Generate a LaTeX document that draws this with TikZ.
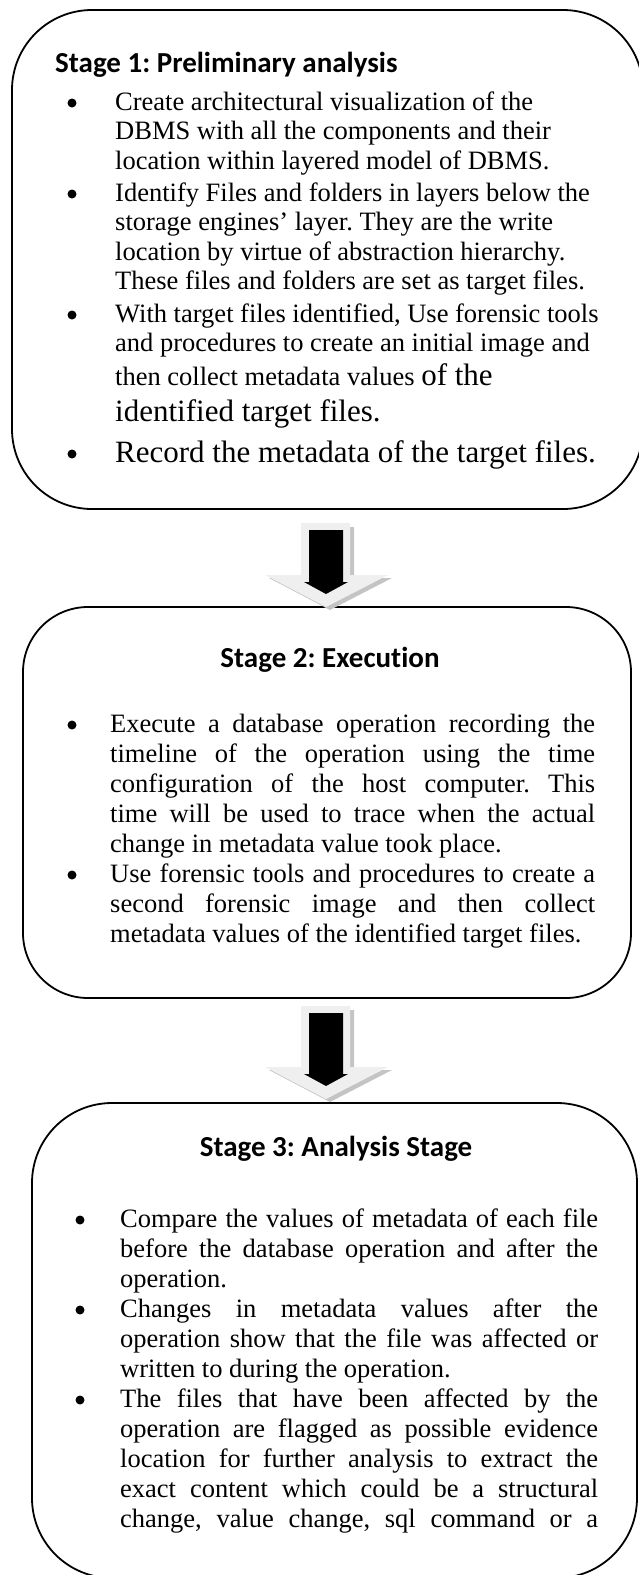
\documentclass[tikz,border=0pt]{standalone}
\usepackage{fontspec}
\setmainfont{Liberation Serif}[Ligatures=NoCommon]
\newfontfamily\titlefont{Carlito}[Ligatures=NoCommon]
\frenchspacing
\newcommand{\jl}[2]{\makebox[#1][s]{#2}}
\definecolor{arrowlight}{HTML}{EFEFEF}
\definecolor{arrowshade}{HTML}{C4C4C4}
\tikzset{
  stagebox/.style={draw, line width=1.8pt, inner sep=0pt, outer sep=0pt, fill=none},
  body/.style={anchor=base west, inner sep=0pt, font=\fontsize{26.5}{30}\selectfont},
  bigbody/.style={anchor=base west, inner sep=0pt, font=\fontsize{31}{35}\selectfont},
  stagetitle/.style={inner sep=0pt, font=\titlefont\bfseries\fontsize{29}{35}\selectfont},
  bul/.style={fill=black, circle, inner sep=0pt, minimum size=9pt},
}
\newcommand{\blockarrow}[2]{%
  \begin{scope}[shift={(#1)}]
    \fill[arrowshade] (-21,4) -- (28,4) -- (28,{#2+3}) -- (66,{#2+3}) -- (4,{#2+35}) -- (-57,{#2+3}) -- (-21,{#2+3}) -- cycle;
    \fill[arrowlight] (-25,0) -- (24,0) -- (24,#2) -- (62,#2) -- (0,{#2+32}) -- (-61,#2) -- (-25,#2) -- cycle;
    \fill[black] (-17,7) -- (17,7) -- (17,{#2+7}) -- (22,{#2+7}) -- (0,{#2+19}) -- (-22,{#2+7}) -- (-17,{#2+7}) -- cycle;
  \end{scope}}
\begin{document}
\begin{tikzpicture}[x=1pt,y=-1pt]
\useasboundingbox (0,0) rectangle (639,1575);
% boxes
\node[stagebox, rounded corners=80pt, minimum width=631pt, minimum height=499pt] (box1) at (327.5,259.5) {};
\node[stagebox, rounded corners=65pt, minimum width=608pt, minimum height=391pt] (box2) at (327,802.5) {};
\node[stagebox, rounded corners=80pt, minimum width=605pt, minimum height=475pt] (box3) at (334.5,1340.5) {};
% arrows
\coordinate (a1) at (326,523);
\coordinate (a2) at (326,1006);
\blockarrow{a1}{52}
\blockarrow{a2}{61}
% ---------- Stage 1
\node[stagetitle, anchor=base west] (t1) at (55,72) {Stage 1: Preliminary analysis};
\node[bul] (p1a) at (72,103) {};
\node[body] (l1a) at (115,110) {Create architectural visualization of the};
\node[body] (l1b) at (115,139.5) {DBMS with all the components and their};
\node[body] (l1c) at (115,169) {location within layered model of DBMS.};
\node[bul] (p1b) at (72,194) {};
\node[body] (l1d) at (115,201) {Identify Files and folders in layers below the};
\node[body] (l1e) at (115,230.5) {storage engines’ layer. They are the write};
\node[body] (l1f) at (115,260) {location by virtue of abstraction hierarchy.};
\node[body] (l1g) at (115,289.5) {These files and folders are set as target files.};
\node[bul] (p1c) at (72,315) {};
\node[body] (l1h) at (115,322) {With target files identified, Use forensic tools};
\node[body] (l1i) at (115,351.5) {and procedures to create an initial image and};
\node[body] (l1j) at (115,385) {then collect metadata values {\fontsize{31}{35}\selectfont of the}};
\node[bigbody] (l1k) at (115,421) {identified target files.};
\node[bul] (p1d) at (72,454) {};
\node[bigbody] (l1l) at (115,462) {Record the metadata of the target files.};
% ---------- Stage 2
\node[stagetitle, anchor=base] (t2) at (330,667) {Stage 2: Execution};
\node[bul] (p2a) at (72,725) {};
\node[body] (l2a) at (110,732) {\jl{485pt}{Execute a database operation recording the}};
\node[body] (l2b) at (110,762) {\jl{485pt}{timeline of the operation using the time}};
\node[body] (l2c) at (110,792) {\jl{485pt}{configuration of the host computer. This}};
\node[body] (l2d) at (110,822) {\jl{485pt}{time will be used to trace when the actual}};
\node[body] (l2e) at (110,852) {change in metadata value took place.};
\node[bul] (p2b) at (72,875) {};
\node[body] (l2f) at (110,882) {\jl{485pt}{Use forensic tools and procedures to create a}};
\node[body] (l2g) at (110,912) {\jl{485pt}{second forensic image and then collect}};
\node[body] (l2h) at (110,942) {metadata values of the identified target files.};
% ---------- Stage 3
\node[stagetitle, anchor=base] (t3) at (336,1156) {Stage 3: Analysis Stage};
\node[bul] (p3a) at (80,1220) {};
\node[body] (l3a) at (120,1227) {\jl{478pt}{Compare the values of metadata of each file}};
\node[body] (l3b) at (120,1257) {\jl{478pt}{before the database operation and after the}};
\node[body] (l3c) at (120,1287) {operation.};
\node[bul] (p3b) at (80,1310) {};
\node[body] (l3d) at (120,1317) {\jl{478pt}{Changes in metadata values after the}};
\node[body] (l3e) at (120,1347) {\jl{478pt}{operation show that the file was affected or}};
\node[body] (l3f) at (120,1377) {written to during the operation.};
\node[bul] (p3c) at (80,1400) {};
\node[body] (l3g) at (120,1407) {\jl{478pt}{The files that have been affected by the}};
\node[body] (l3h) at (120,1437) {\jl{478pt}{operation are flagged as possible evidence}};
\node[body] (l3i) at (120,1467) {\jl{478pt}{location for further analysis to extract the}};
\node[body] (l3j) at (120,1497) {\jl{478pt}{exact content which could be a structural}};
\node[body] (l3k) at (120,1527) {\jl{478pt}{change, value change, sql command or a}};
\end{tikzpicture}
\end{document}
